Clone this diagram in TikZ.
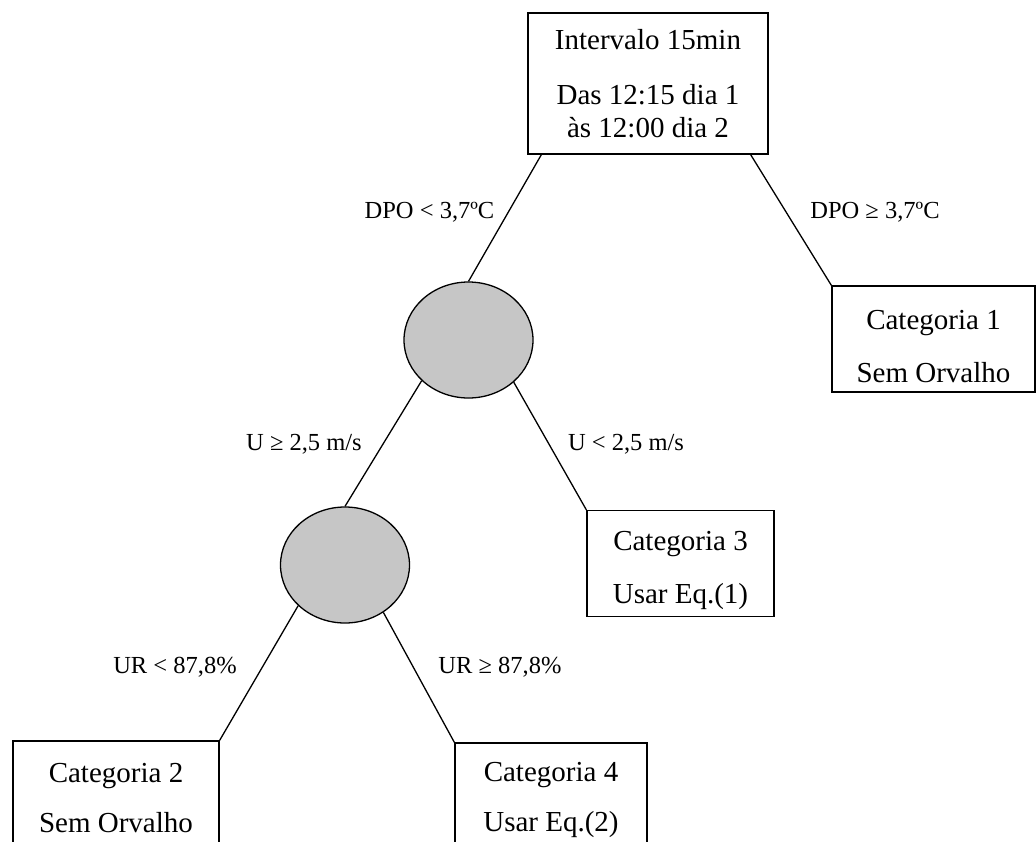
\documentclass[tikz,border=0pt]{standalone}
\usepackage{fontspec}
\setmainfont{Liberation Serif}
\usetikzlibrary{shapes.geometric}
\newcommand{\bigtxt}{\fontsize{29}{35}\selectfont}
\newcommand{\smalltxt}{\fontsize{24.5}{29}\selectfont}
\newcommand{\tallstrut}{\rule{0pt}{34pt}}
\newcommand{\lowstrut}{\rule{0pt}{27pt}}

\begin{document}
\begin{tikzpicture}[x=1pt, y=-1pt,
                  bx/.style={draw, line width=1.3pt, align=center, font=\bigtxt, inner sep=0pt, minimum height=106pt},
                  nd/.style={draw, ellipse, line width=1.3pt, fill=gray!45, inner sep=0pt, minimum width=129pt, minimum height=116pt},
                  lb/.style={font=\smalltxt, anchor=base, inner sep=0pt},
                  ln/.style={line width=1.3pt}]

    \useasboundingbox (0,0) rectangle (1036,841); % size of the figure, bottom boxes run off the page
    \clip (0,0) rectangle (1036,841);

    % boxes
    \node [bx, minimum width=240pt, minimum height=141pt, font=\fontsize{29}{33}\selectfont] (top) at (648,83.5) {Intervalo 15min\\[22pt]Das 12:15 dia 1\\às 12:00 dia 2};
    \node [bx, minimum width=203pt] (cat1) at (933.5,339) {\tallstrut Categoria 1\\[18pt]Sem Orvalho};
    \node [bx, minimum width=187pt] (cat3) at (680.5,563.5) {\tallstrut Categoria 3\\[18pt]Usar Eq.(1)};
    \node [bx, minimum width=206pt] (cat2) at (116,794) {\lowstrut Categoria 2\\[15pt]Sem Orvalho};
    \node [bx, minimum width=192pt] (cat4) at (551,796) {\lowstrut Categoria 4\\[15pt]Usar Eq.(2)};

    % decision nodes
    \node [nd] (n1) at (468.5,340) {};
    \node [nd] (n2) at (345,565) {};

    % branches
    \draw [ln] ([xshift=14pt]top.south west) -- (n1.north);
    \draw [ln] ([xshift=-18pt]top.south east) -- (cat1.north west);
    \draw [ln] (n1.221) -- (n2.north);
    \draw [ln] (n1.317) -- (cat3.north west);
    \draw [ln] (n2.221) -- (cat2.north east);
    \draw [ln] (n2.309) -- (cat4.north west);

    % conditions
    \node [lb] (dpoA) at (429.5,218) {DPO < 3,7ºC};
    \node [lb] (dpoB) at (875,218) {DPO ≥ 3,7ºC};
    \node [lb] (uA)   at (304,450) {U ≥ 2,5 m/s};
    \node [lb] (uB)   at (626,450) {U < 2,5 m/s};
    \node [lb] (urA)  at (175,673) {UR < 87,8\%};
    \node [lb] (urB)  at (500,673) {UR ≥ 87,8\%};

\end{tikzpicture}
\end{document}
